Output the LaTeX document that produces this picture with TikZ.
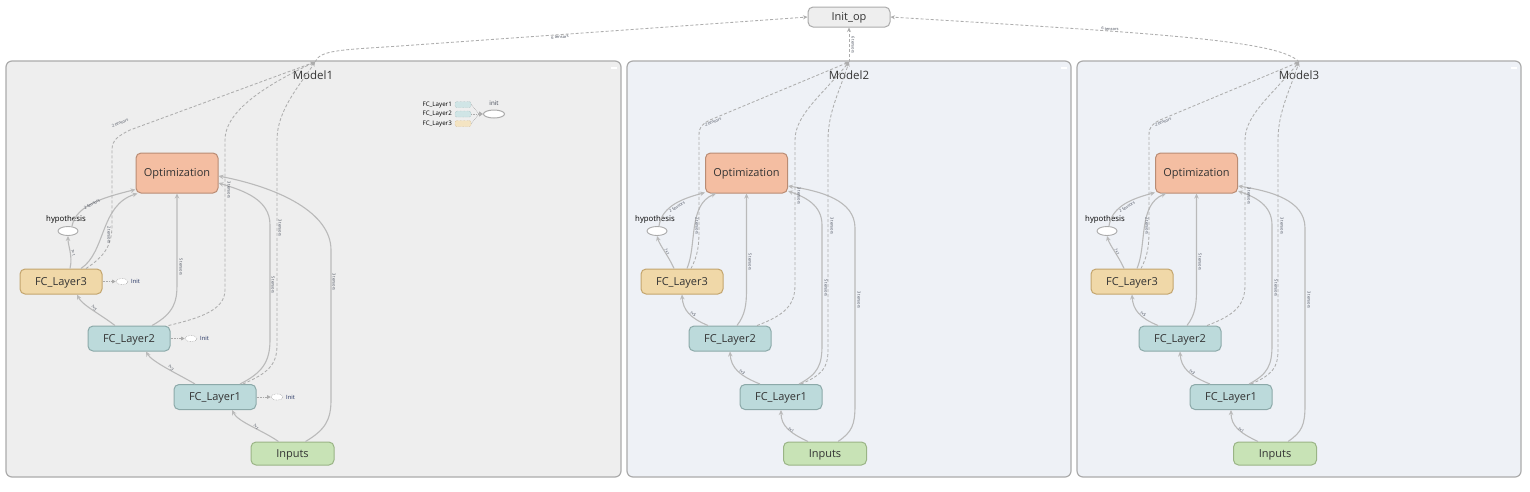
\documentclass[tikz,border=0pt]{standalone}
\usepackage{fontspec}
\setmainfont{Open Sans}
\usetikzlibrary{arrows.meta,shapes.geometric}
\definecolor{optf}{HTML}{F4BEA2}
\definecolor{optd}{HTML}{B98C74}
\definecolor{fcf}{HTML}{BCDADB}
\definecolor{fcd}{HTML}{8CA9A9}
\definecolor{fc3f}{HTML}{F0D8A8}
\definecolor{fc3d}{HTML}{C3A56E}
\definecolor{inf}{HTML}{C8E3B6}
\definecolor{ind}{HTML}{9AB486}
\definecolor{grpA}{HTML}{EEEEEE}
\definecolor{grpB}{HTML}{EEF1F6}
\definecolor{grpd}{HTML}{ABABAB}
\definecolor{edgec}{HTML}{BABABA}
\definecolor{dedgec}{HTML}{ADADAD}
\definecolor{txtc}{HTML}{333333}
\definecolor{labc}{HTML}{3E4452}
\definecolor{initc}{HTML}{1A2A5A}
\begin{document}
\begin{tikzpicture}[x=1pt,y=-1pt,
  nbox/.style={rounded corners=5pt, line width=1pt, text=txtc, font=\fontsize{11}{13}\selectfont, inner sep=0pt, text height=8pt, text depth=0.5pt},
  opt/.style={nbox, fill=optf, draw=optd, minimum width=82pt, minimum height=40pt},
  fc/.style={nbox, fill=fcf, draw=fcd, minimum width=82pt, minimum height=25pt},
  fcy/.style={nbox, fill=fc3f, draw=fc3d, minimum width=82pt, minimum height=25pt},
  inp/.style={nbox, fill=inf, draw=ind, minimum width=83pt, minimum height=23pt},
  initop/.style={nbox, fill=grpA, draw=grpd, minimum width=82pt, minimum height=20pt},
  grp/.style={rounded corners=6pt, line width=1.2pt, draw=grpd, inner sep=0pt},
  gtitle/.style={text=txtc, font=\fontsize{11.5}{13}\selectfont, inner sep=0pt},
  hyp/.style={ellipse, draw=grpd, fill=white, line width=0.9pt, minimum width=20pt, minimum height=9pt, inner sep=0pt},
  hlab/.style={text=black, font=\fontsize{7.8}{9}\selectfont, inner sep=0pt},
  edge/.style={draw=edgec, line width=1.1pt, -{Stealth[length=5pt,width=4.5pt]}},
  dedge/.style={draw=dedgec, line width=0.85pt, dash pattern=on 3pt off 2pt, -{Stealth[length=4.5pt,width=4pt]}},
  elab/.style={text=labc, font=\fontsize{4}{4.5}\selectfont, inner sep=0.3pt},
  iell/.style={ellipse, draw=grpd, densely dotted, fill=white, line width=0.6pt, minimum width=12pt, minimum height=6pt, inner sep=0pt},
  ilab/.style={text=initc, font=\fontsize{5.8}{6.5}\selectfont, inner sep=0pt, anchor=west},
  iedge/.style={draw=grpd, densely dotted, line width=0.6pt, -{Triangle[length=3.5pt,width=3.5pt]}},
  legt/.style={text=black, font=\fontsize{6.2}{7}\selectfont, inner sep=0pt, anchor=east},
  minus/.style={draw=white, line width=1.3pt}
]
\useasboundingbox (0,0) rectangle (1530,491);
\fill[white] (0,0) rectangle (1530,491);

% ---------------- group boxes ----------------
\node[grp, fill=grpA, minimum width=615pt, minimum height=416pt] (m1) at (313.5,269) {};
\node[grp, fill=grpB, minimum width=444pt, minimum height=416pt] (m2) at (849,269) {};
\node[grp, fill=grpB, minimum width=444pt, minimum height=416pt] (m3) at (1299,269) {};
\node[gtitle] (t1) at (313,75) {Model1};
\node[gtitle] (t2) at (849,75) {Model2};
\node[gtitle] (t3) at (1299,75) {Model3};
\draw[minus] (611,68) -- (617,68);
\draw[minus] (1061,68) -- (1067,68);
\draw[minus] (1511,68) -- (1517,68);

\node[initop] (init) at (849,17) {Init\_op};

% ---------------- Model1 ----------------
\node[opt] (o1) at (177,173) {Optimization};
\node[hyp] (h1) at (68,231) {};
\node[hlab] (hl1) at (66,219) {hypothesis};
\node[fcy] (f13) at (61,281.5) {FC\_Layer3};
\node[fc] (f12) at (129,338.5) {FC\_Layer2};
\node[fc] (f11) at (215,397) {FC\_Layer1};
\node[inp] (in1) at (292.5,453.5) {Inputs};
\coordinate (c1) at (315,62);

% init markers
\node[iell] (ie3) at (122,281.5) {};
\node[ilab] (il3) at (131,281.5) {Init};
\draw[iedge] (f13.east) -- (ie3.west);
\node[iell] (ie2) at (191,338.5) {};
\node[ilab] (il2) at (200,338.5) {Init};
\draw[iedge] (f12.east) -- (ie2.west);
\node[iell] (ie1) at (277,397) {};
\node[ilab] (il1) at (286,397) {Init};
\draw[iedge] (f11.east) -- (ie1.west);

% legend
\node[legt] (lt1) at (452,104.5) {FC\_Layer1};
\node[legt] (lt2) at (452,114) {FC\_Layer2};
\node[legt] (lt3) at (452,123.5) {FC\_Layer3};
\node[draw=fcd, densely dotted, fill=fcf!70, rounded corners=2pt, minimum width=16pt, minimum height=6pt, inner sep=0pt] (lr1) at (463,104.5) {};
\node[draw=fcd, densely dotted, fill=fcf!70, rounded corners=2pt, minimum width=16pt, minimum height=6pt, inner sep=0pt] (lr2) at (463,114) {};
\node[draw=fc3d, densely dotted, fill=fc3f!70, rounded corners=2pt, minimum width=16pt, minimum height=6pt, inner sep=0pt] (lr3) at (463,123.5) {};
\node[ellipse, draw=grpd, fill=white, line width=1pt, minimum width=21pt, minimum height=8pt, inner sep=0pt] (lgi) at (494,114) {};
\node[text=labc, font=\fontsize{6.2}{7}\selectfont, inner sep=0pt] (lgt) at (494,103.5) {init};
\coordinate (lgm) at (479,114);
\draw[draw=grpd, densely dotted, line width=0.6pt] (lr1.east) -- (lgm);
\draw[draw=grpd, densely dotted, line width=0.6pt] (lr3.east) -- (lgm);
\draw[draw=grpd, densely dotted, line width=0.6pt, -{Triangle[length=4pt,width=5pt]}] (lr2.east) -- (lgi.west);

% solid edges
\draw[edge] ([xshift=-14pt]in1.north) .. controls (262,430) and (238,422) .. ([xshift=17pt]f11.south);
\draw[edge] ([xshift=-20pt]f11.north) .. controls (180,375) and (152,362) .. ([xshift=17pt]f12.south);
\draw[edge] ([xshift=-14pt]f12.north) .. controls (100,314) and (82,305) .. ([xshift=16pt]f13.south);
\draw[edge] ([xshift=9pt]f13.north) .. controls (73,256) and (68,246) .. (h1.south);
\draw[edge] ([xshift=4pt]h1.north) .. controls (76,205) and (105,197) .. ([yshift=4pt]o1.south west);
\draw[edge] ([xshift=20pt]f13.north) .. controls (106,252) and (100,205) .. ([xshift=2pt]o1.south west);
\draw[edge] ([xshift=23pt]f12.north) .. controls (175,313) and (177,300) .. (177,285) -- (o1.south);
\draw[edge] ([xshift=25pt]f11.north) .. controls (262,373) and (270,362) .. (270,340) -- (270,225) .. controls (270,200) and (245,191) .. ([yshift=-10pt]o1.east);
\draw[edge] ([xshift=13pt]in1.north) .. controls (325,430) and (331,420) .. (331,400) -- (331,250) .. controls (331,213) and (280,188) .. ([yshift=-3pt]o1.east);
% dashed edges
\draw[dedge] ([xshift=25pt]f13.north) .. controls (105,256) and (112,245) .. (112,225) -- (112,150) .. controls (112,140) and (118,136) .. (130,130) -- (c1);
\draw[dedge] ([xshift=-2pt]f12.north east) .. controls (200,318) and (225,310) .. (225,290) -- (225,140) .. controls (225,115) and (255,90) .. (c1);
\draw[dedge] ([xshift=28pt]f11.north) .. controls (268,373) and (277,365) .. (277,345) -- (277,140) .. controls (277,110) and (300,85) .. (c1);
\draw[dedge] (c1) .. controls (320,50) and (340,50) .. (400,46) -- (init.west);
% labels
\node[elab, rotate=23] at (120,123) {2 tensors};
\node[elab, rotate=27] at (92,204) {2 tensors};
\node[elab, rotate=-90] at (109,235) {2 tensors};
\node[elab, rotate=-90] at (181,267) {5 tensors};
\node[elab, rotate=-90] at (229,190) {3 tensors};
\node[elab, rotate=-90] at (280,228) {3 tensors};
\node[elab, rotate=-90] at (273,285) {5 tensors};
\node[elab, rotate=-90] at (334,282) {3 tensors};
\node[elab, rotate=4] at (560,37) {6 tensors};
\node[elab, rotate=-55] at (256,427) {?×1};
\node[elab, rotate=-50] at (171,368) {?×3};
\node[elab, rotate=-55] at (94,308) {?×5};
\node[elab, rotate=-75] at (73,253) {?×1};

% ---------------- Model2 and Model3 ----------------
\foreach \m/\dx in {2/0,3/450}{
\begin{scope}[xshift=\dx pt]
\node[opt] (o\m) at (746.5,173) {Optimization};
\node[hyp] (h\m) at (657,231) {};
\node[hlab] (hl\m) at (655,219) {hypothesis};
\node[fcy] (f\m3) at (682,281.5) {FC\_Layer3};
\node[fc] (f\m2) at (730,338.5) {FC\_Layer2};
\node[fc] (f\m1) at (781,397) {FC\_Layer1};
\node[inp] (in\m) at (825,453.5) {Inputs};
\coordinate (c\m) at (849,62);
\draw[edge] ([xshift=-17pt]in\m.north) .. controls (790,433) and (781,426) .. (f\m1.south);
\draw[edge] ([xshift=-21pt]f\m1.north) .. controls (740,376) and (731,368) .. (f\m2.south);
\draw[edge] ([xshift=-22pt]f\m2.north) .. controls (690,318) and (683,310) .. (f\m3.south);
\draw[edge] ([xshift=-8pt]f\m3.north) .. controls (668,255) and (660,246) .. (h\m.south);
\draw[edge] ([xshift=2pt]h\m.north) .. controls (662,205) and (685,198) .. ([yshift=1pt]o\m.south west);
\draw[edge] ([xshift=5pt]f\m3.north) .. controls (697,245) and (688,205) .. ([xshift=11pt]o\m.south west);
\draw[edge] ([xshift=7pt]f\m2.north) .. controls (745,315) and (746.5,305) .. (746.5,290) -- (o\m.south);
\draw[edge] ([xshift=18pt]f\m1.north) .. controls (818,374) and (822,365) .. (822,345) -- (822,225) .. controls (822,205) and (805,197) .. ([yshift=-18pt]o\m.east);
\draw[edge] ([xshift=13pt]in\m.north) .. controls (852,432) and (855,425) .. (855,405) -- (855,228) .. controls (855,200) and (820,191) .. ([yshift=-13pt]o\m.east);
\draw[dedge] ([xshift=9pt]f\m3.north) .. controls (698,255) and (699,245) .. (699,230) -- (699,135) .. controls (699,127) and (702,124) .. (710,120) -- (c\m);
\draw[dedge] ([xshift=27pt]f\m2.north) .. controls (785,315) and (795,305) .. (795,285) -- (795,140) .. controls (795,115) and (822,95) .. (c\m);
\draw[dedge] ([xshift=20pt]f\m1.north) .. controls (822,375) and (828,368) .. (828,350) -- (828,140) .. controls (828,112) and (840,90) .. (c\m);
\node[elab, rotate=23] at (713,122) {2 tensors};
\node[elab, rotate=30] at (677,207) {2 tensors};
\node[elab, rotate=-90] at (697,226) {2 tensors};
\node[elab, rotate=-90] at (750,262) {5 tensors};
\node[elab, rotate=-90] at (799,196) {3 tensors};
\node[elab, rotate=-90] at (832,226) {3 tensors};
\node[elab, rotate=-90] at (826,288) {5 tensors};
\node[elab, rotate=-90] at (859,300) {3 tensors};
\node[elab, rotate=-40] at (791,430) {?×1};
\node[elab, rotate=-40] at (742,372) {?×3};
\node[elab, rotate=-40] at (693,314) {?×5};
\node[elab, rotate=-65] at (667,252) {?×1};
\end{scope}
}
\draw[dedge] (c2) -- (init.south);
\node[elab, rotate=-90] at (853,45) {6 tensors};
\draw[dedge] (c3) .. controls (1280,40) and (1150,33) .. (init.east);
\node[elab, rotate=-4] at (1110,29) {6 tensors};
\end{tikzpicture}
\end{document}
